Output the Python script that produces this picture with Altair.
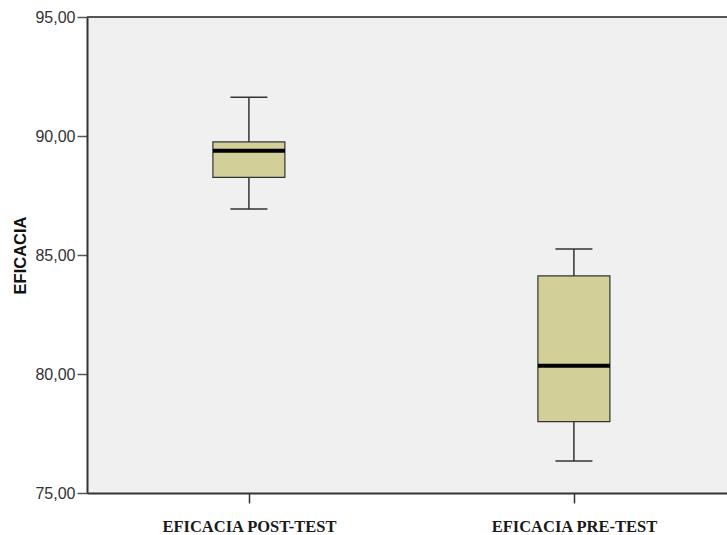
import altair as alt
import pandas as pd

# Box-plot summary statistics for each test
categories = ["EFICACIA POST-TEST", "EFICACIA PRE-TEST"]
mins = [86.93, 76.34]
q1s = [88.26, 78.00]
medians = [89.38, 80.35]
q3s = [89.75, 84.12]
maxs = [91.63, 85.25]

df = pd.DataFrame({
    "cat": categories,
    "min": mins,
    "q1": q1s,
    "median": medians,
    "q3": q3s,
    "max": maxs,
})

y_scale = alt.Scale(domain=[75, 95], nice=False, zero=False)
x_scale = alt.Scale(domain=categories, type="point", padding=0.4846, align=0.514)

x_enc = alt.X(
    "cat:N",
    scale=x_scale,
    axis=alt.Axis(
        title=None,
        labelAngle=0,
        labelFont="Liberation Serif",
        labelFontWeight="bold",
        labelFontSize=16.5,
        labelColor="#1a1a1a",
        labelPadding=15,
        tickSize=10,
        tickColor="#333333",
        tickWidth=1.5,
        domainColor="#333333",
        domainWidth=2,
    ),
)

y_axis = alt.Axis(
    title="EFICACIA",
    titleFont="Liberation Sans",
    titleFontWeight="bold",
    titleFontSize=16.5,
    titleColor="#111111",
    titlePadding=6,
    values=[75, 80, 85, 90, 95],
    labelExpr="replace(format(datum.value, '.2f'), '.', ',')",
    labelFont="Liberation Sans",
    labelFontSize=16,
    labelColor="#333333",
    labelPadding=2,
    tickSize=10,
    tickColor="#555555",
    tickWidth=1.5,
    domainColor="#333333",
    domainWidth=2,
    grid=False,
)

base = alt.Chart(df)

whisker = base.mark_rule(color="#333333", strokeWidth=1.5).encode(
    x=x_enc,
    y=alt.Y("min:Q", scale=y_scale, axis=y_axis),
    y2="max:Q",
)

caps_low = base.mark_tick(color="#333333", thickness=1.5, size=37, opacity=1).encode(
    x=x_enc, y=alt.Y("min:Q", scale=y_scale)
)
caps_high = base.mark_tick(color="#333333", thickness=1.5, size=37, opacity=1).encode(
    x=x_enc, y=alt.Y("max:Q", scale=y_scale)
)

box = base.mark_bar(size=72, fill="#d3cf98", stroke="#333333", strokeWidth=1.2).encode(
    x=x_enc,
    y=alt.Y("q1:Q", scale=y_scale),
    y2="q3:Q",
)

median = base.mark_tick(color="#000000", thickness=4, size=72, opacity=1).encode(
    x=x_enc, y=alt.Y("median:Q", scale=y_scale)
)

# frame line along the top of the plot area
top_line = alt.Chart(pd.DataFrame({"v": [95]})).mark_rule(
    color="#555555", strokeWidth=2
).encode(y=alt.Y("v:Q", scale=y_scale))

chart = alt.layer(top_line, whisker, caps_low, caps_high, box, median).properties(
    width=640,
    height=476,
    padding={"left": 87, "top": 17, "right": 0, "bottom": 42},
    autosize=alt.AutoSizeParams(type="none"),
    background="white",
).configure_view(
    fill="#f0f0f0",
    stroke=None,
)

chart.save("out.html", embed_options={"renderer": "svg", "actions": False})
